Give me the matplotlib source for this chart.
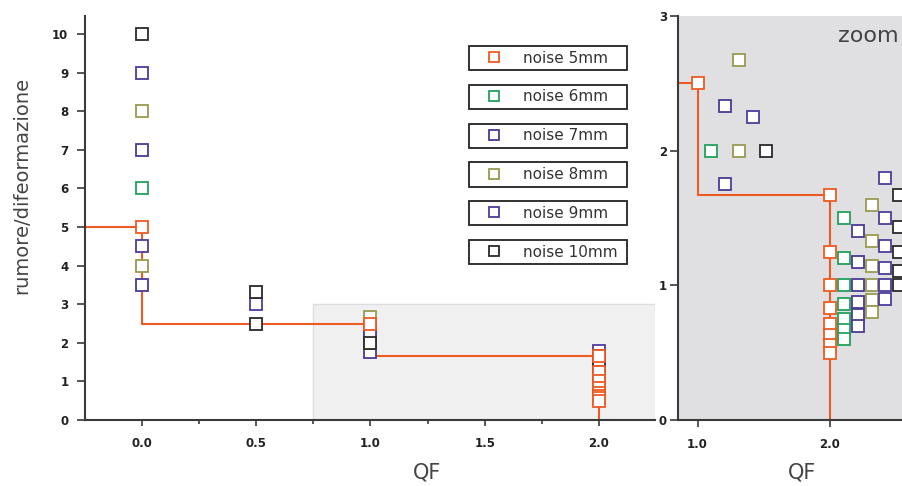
import matplotlib
matplotlib.use("Agg")
import matplotlib.pyplot as plt
from matplotlib.patches import Rectangle
from matplotlib.ticker import MultipleLocator

# series labels and colours
labels = ["noise 5mm", "noise 6mm", "noise 7mm", "noise 8mm", "noise 9mm", "noise 10mm"]
colors = ["#ee5a24", "#22a05a", "#4a3a94", "#9a9a50", "#4d3d9c", "#2a2a2a"]

# QF / rumore-deformazione values
qf_5 = [0, 1, 2, 2, 2, 2, 2, 2, 2, 2]
val_5 = [5, 2.5, 1.67, 1.25, 1.0, 0.83, 0.71, 0.63, 0.56, 0.5]
qf_6 = [0, 1, 2, 2, 2, 2, 2, 2, 2]
val_6 = [6, 2.0, 1.5, 1.2, 1.0, 0.86, 0.75, 0.67, 0.6]
qf_7 = [0, 0, 1, 1, 2, 2, 2, 2, 2, 2]
val_7 = [7, 3.5, 2.33, 1.75, 1.4, 1.17, 1.0, 0.875, 0.78, 0.7]
qf_8 = [0, 0, 1, 1, 2, 2, 2, 2, 2, 2]
val_8 = [8, 4, 2.67, 2.0, 1.6, 1.33, 1.14, 1.0, 0.89, 0.8]
qf_9 = [0, 0, 0.5, 1, 2, 2, 2, 2, 2, 2]
val_9 = [9, 4.5, 3.0, 2.25, 1.8, 1.5, 1.29, 1.13, 1.0, 0.9]
qf_10 = [0, 0.5, 0.5, 1, 2, 2, 2, 2, 2]
val_10 = [10, 3.33, 2.5, 2.0, 1.67, 1.43, 1.25, 1.11, 1.0]

# orange frontier (noise 5mm), drawn as steps
step_qf = [-0.25, 0, 1, 2]
step_val = [5, 2.5, 1.67, 0]

# zoomed region and side-by-side shift of the series inside the zoom
zoom_x = (0.75, 2.245)
zoom_y = (0, 3)
dodge = [0, 0.105, 0.21, 0.315, 0.42, 0.52]

all_qf = [qf_5, qf_6, qf_7, qf_8, qf_9, qf_10]
all_val = [val_5, val_6, val_7, val_8, val_9, val_10]

W, H = 902, 486
fig = plt.figure(figsize=(W / 100, H / 100), dpi=100)
ax = fig.add_axes([85 / W, 66 / H, 570 / W, 404 / H])
axz = fig.add_axes([678 / W, 66 / H, 224 / W, 404 / H])

spine_c = "#3a3a3a"
text_c = "#444444"
mk = dict(marker="s", ms=9, mew=1.3, mfc="white", ls="none")

# draw order: 6..10 first, noise 5mm on top
order = [1, 2, 3, 4, 5, 0]

# ---- main plot
ax.add_patch(Rectangle((zoom_x[0], zoom_y[0]), zoom_x[1] - zoom_x[0], zoom_y[1] - zoom_y[0],
                       facecolor="#f0f0f0", edgecolor="#dddddd", lw=1, zorder=0))
ax.plot(step_qf, step_val, drawstyle="steps-post", color=colors[0], lw=1.5, zorder=2)
handles = [None] * 6
for i in order:
    handles[i], = ax.plot(all_qf[i], all_val[i], color=colors[i], mec=colors[i],
                          zorder=3 + (i == 0), label=labels[i], **mk)

ax.set_xlim(-0.249, 2.245)
ax.set_ylim(0, 10.47)
ax.xaxis.set_major_locator(MultipleLocator(0.5))
ax.xaxis.set_minor_locator(MultipleLocator(0.25))
ax.yaxis.set_major_locator(MultipleLocator(1))
ax.xaxis.set_major_formatter(matplotlib.ticker.FormatStrFormatter("%.1f"))
for s in ["top", "right"]:
    ax.spines[s].set_visible(False)
for s in ["left", "bottom"]:
    ax.spines[s].set_color(spine_c)
    ax.spines[s].set_linewidth(1.5)
ax.tick_params(axis="y", length=6, width=1.2, pad=6, color=spine_c)
ax.tick_params(axis="x", which="major", length=4, width=1.2, pad=8, color=spine_c)
ax.tick_params(axis="x", which="minor", length=3, width=1.2, color=spine_c)
for t in ax.get_xticklabels() + ax.get_yticklabels():
    t.set_fontweight("bold")
    t.set_fontsize(8.5)
    t.set_color("#222222")
ax.set_facecolor("none")
ax.set_xlabel("QF", fontsize=15, color=text_c)
ax.xaxis.set_label_coords((427 - 85) / 570, -(472 - 420) / 404)
ax.xaxis.label.set_va("center")
ax.set_ylabel("rumore/difeormazione", fontsize=14, color=text_c)
ax.yaxis.set_label_coords(-(85 - 22) / 570, (420 - 185) / 404)
ax.yaxis.label.set_va("center")

# one framed box per series
for k, i in enumerate(range(6)):
    top = 46 + k * 38.8
    leg = fig.legend(handles=[handles[i]], loc="upper left",
                     bbox_to_anchor=(469 / W, 1 - (top + 27) / H, 158 / W, 27 / H),
                     mode="expand", borderaxespad=0, fontsize=11, markerscale=0.75,
                     handlelength=2.7, handletextpad=0.55, borderpad=0.3,
                     frameon=True, fancybox=False, edgecolor="#222222", framealpha=1)
    leg.get_frame().set_linewidth(1.3)
    for t in leg.get_texts():
        t.set_color("#333333")

# ---- zoom inset
axz.set_facecolor("#e0e0e3")
axz.plot(step_qf, step_val, drawstyle="steps-post", color=colors[0], lw=1.5, zorder=2)
for i in order:
    xs = [q + dodge[i] for q in all_qf[i] if q >= zoom_x[0]]
    ys = [v for q, v in zip(all_qf[i], all_val[i]) if q >= zoom_x[0]]
    axz.plot(xs, ys, color=colors[i], mec=colors[i], zorder=3 + (i == 0), **mk)

axz.set_xlim(0.852, 2.545)
axz.set_ylim(zoom_y)
axz.set_xticks([1.0, 2.0])
axz.set_yticks([0, 1, 2, 3])
axz.xaxis.set_major_formatter(matplotlib.ticker.FormatStrFormatter("%.1f"))
for s in ["top", "right"]:
    axz.spines[s].set_visible(False)
for s in ["left", "bottom"]:
    axz.spines[s].set_color(spine_c)
    axz.spines[s].set_linewidth(1.5)
axz.tick_params(axis="y", length=6, width=1.2, pad=2, color=spine_c)
axz.tick_params(axis="x", length=5, width=1.2, pad=8, color=spine_c)
for t in axz.get_xticklabels() + axz.get_yticklabels():
    t.set_fontweight("bold")
    t.set_fontsize(8.5)
    t.set_color("#222222")
axz.set_xlabel("QF", fontsize=15, color=text_c)
axz.xaxis.set_label_coords((802 - 678) / 224, -(472 - 420) / 404)
axz.xaxis.label.set_va("center")
axz.text((899 - 678) / 224, (420 - 36) / 404, "zoom", transform=axz.transAxes,
         fontsize=16, color="#444444", ha="right", va="center")

fig.savefig("out.png", dpi=100)
